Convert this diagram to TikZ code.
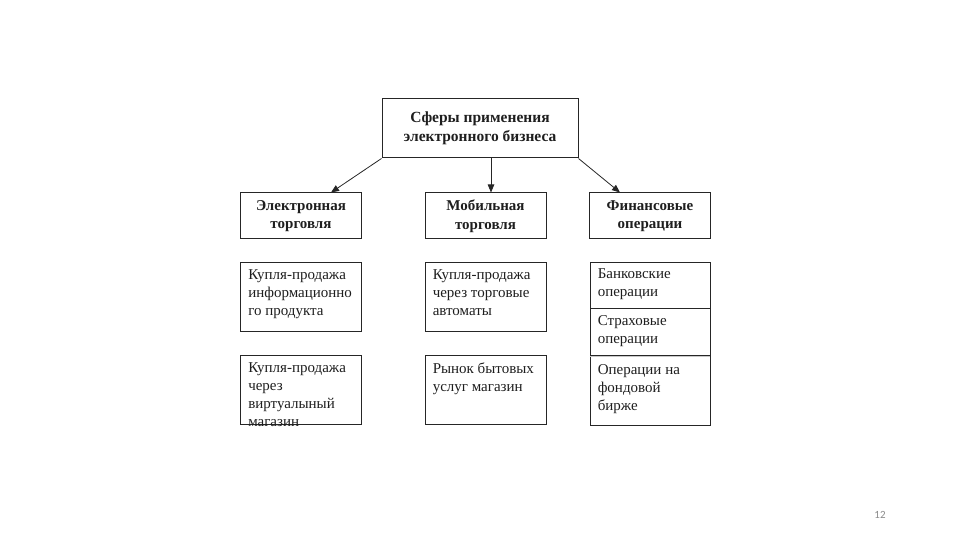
\documentclass[tikz,border=0pt]{standalone}
\usepackage{fontspec}
\setmainfont{Liberation Serif}
\newfontfamily\slidenumfont{Carlito}
\usetikzlibrary{arrows.meta, positioning, calc}
\definecolor{sphereLine}{HTML}{262626}
\definecolor{sphereText}{HTML}{1E1E1E}
\definecolor{sphereMuted}{HTML}{8A8A8A}
\definecolor{sphereSplit}{HTML}{C8C8C8}

\begin{document}
\begin{tikzpicture}[
    x=1pt, y=1pt,
    >={Triangle[length=8pt, width=6.5pt]},
    head/.style={
        draw=sphereLine,
        line width=1pt,
        minimum width=196pt,
        minimum height=59pt,
        align=center,
        text=sphereText,
        font=\bfseries\fontsize{15.5}{19}\selectfont
    },
    branch/.style={
        draw=sphereLine,
        line width=1pt,
        minimum width=121pt,
        minimum height=46pt,
        align=center,
        text=sphereText,
        font=\bfseries\fontsize{15}{18.5}\selectfont
    },
    cell/.style={
        draw=sphereLine,
        line width=0.9pt,
        minimum width=121pt,
        minimum height=69pt,
        inner sep=0pt
    },
    celltext/.style={
        anchor=north west,
        align=left,
        inner sep=0pt,
        text=sphereText,
        font=\fontsize{15}{18}\selectfont
    },
    arrow/.style={->, line width=0.8pt, draw=sphereLine},
]

\useasboundingbox (0,0) rectangle (960,540);

% top of the tree
\node[head] (sphere) at (480,411.5) {
    Сферы применения\\
    электронного бизнеса
};

% three branches
\node[branch] (etrade) at (301,324) {Электронная\\торговля};
\node[branch] (mtrade) at (485.5,324) {Мобильная\\торговля};
\node[branch] (finance) at (650,324) {Финансовые\\операции};

\draw[arrow] (sphere.south west) -- ($(etrade.north east)+(-31,0)$);
\draw[arrow] ($(sphere.south)+(11,0)$) -- ($(mtrade.north)+(5.5,0)$);
\draw[arrow] (sphere.south east) -- ($(finance.north west)+(31,0)$);

% electronic trade
\node[cell] (einfo) at (301,243.5) {};
\node[celltext] (einfotext) at ($(einfo.north west)+(8,-8)$)
    {Купля-продажа\\информационно\\го продукта};
\node[cell] (eshop) at (301,150.5) {};
\node[celltext] (eshoptext) at ($(eshop.north west)+(8,-8)$)
    {Купля-продажа\\через\\виртуалыный\\магазин};

% mobile trade
\node[cell] (mvend) at (485.5,243.5) {};
\node[celltext] (mvendtext) at ($(mvend.north west)+(8,-8)$)
    {Купля-продажа\\через торговые\\автоматы};
\node[cell] (mserv) at (485.5,150.5) {};
\node[celltext] (mservtext) at ($(mserv.north west)+(8,-8)$)
    {Рынок бытовых\\услуг магазин};

% finance column, stacked
\node[cell, minimum width=120pt, minimum height=46pt] (fbank) at (650,255) {};
\node[celltext] (fbanktext) at ($(fbank.north west)+(8,-7)$)
    {Банковские\\операции};
\node[cell, minimum width=120pt, minimum height=47pt, below=0pt of fbank] (finsure) {};
\node[celltext] (finsuretext) at ($(finsure.north west)+(8,-7)$)
    {Страховые\\операции};
\node[cell, minimum width=120pt, below=0pt of finsure] (fstock) {};
\node[celltext] (fstocktext) at ($(fstock.north west)+(8,-8)$)
    {Операции на\\фондовой\\бирже};
\draw[sphereSplit, line width=0.9pt] (fstock.north west) -- (fstock.north east);

\node[font=\slidenumfont\fontsize{11}{13}\selectfont, text=sphereMuted] (slidenum) at (880,25) {12};

\end{tikzpicture}
\end{document}
